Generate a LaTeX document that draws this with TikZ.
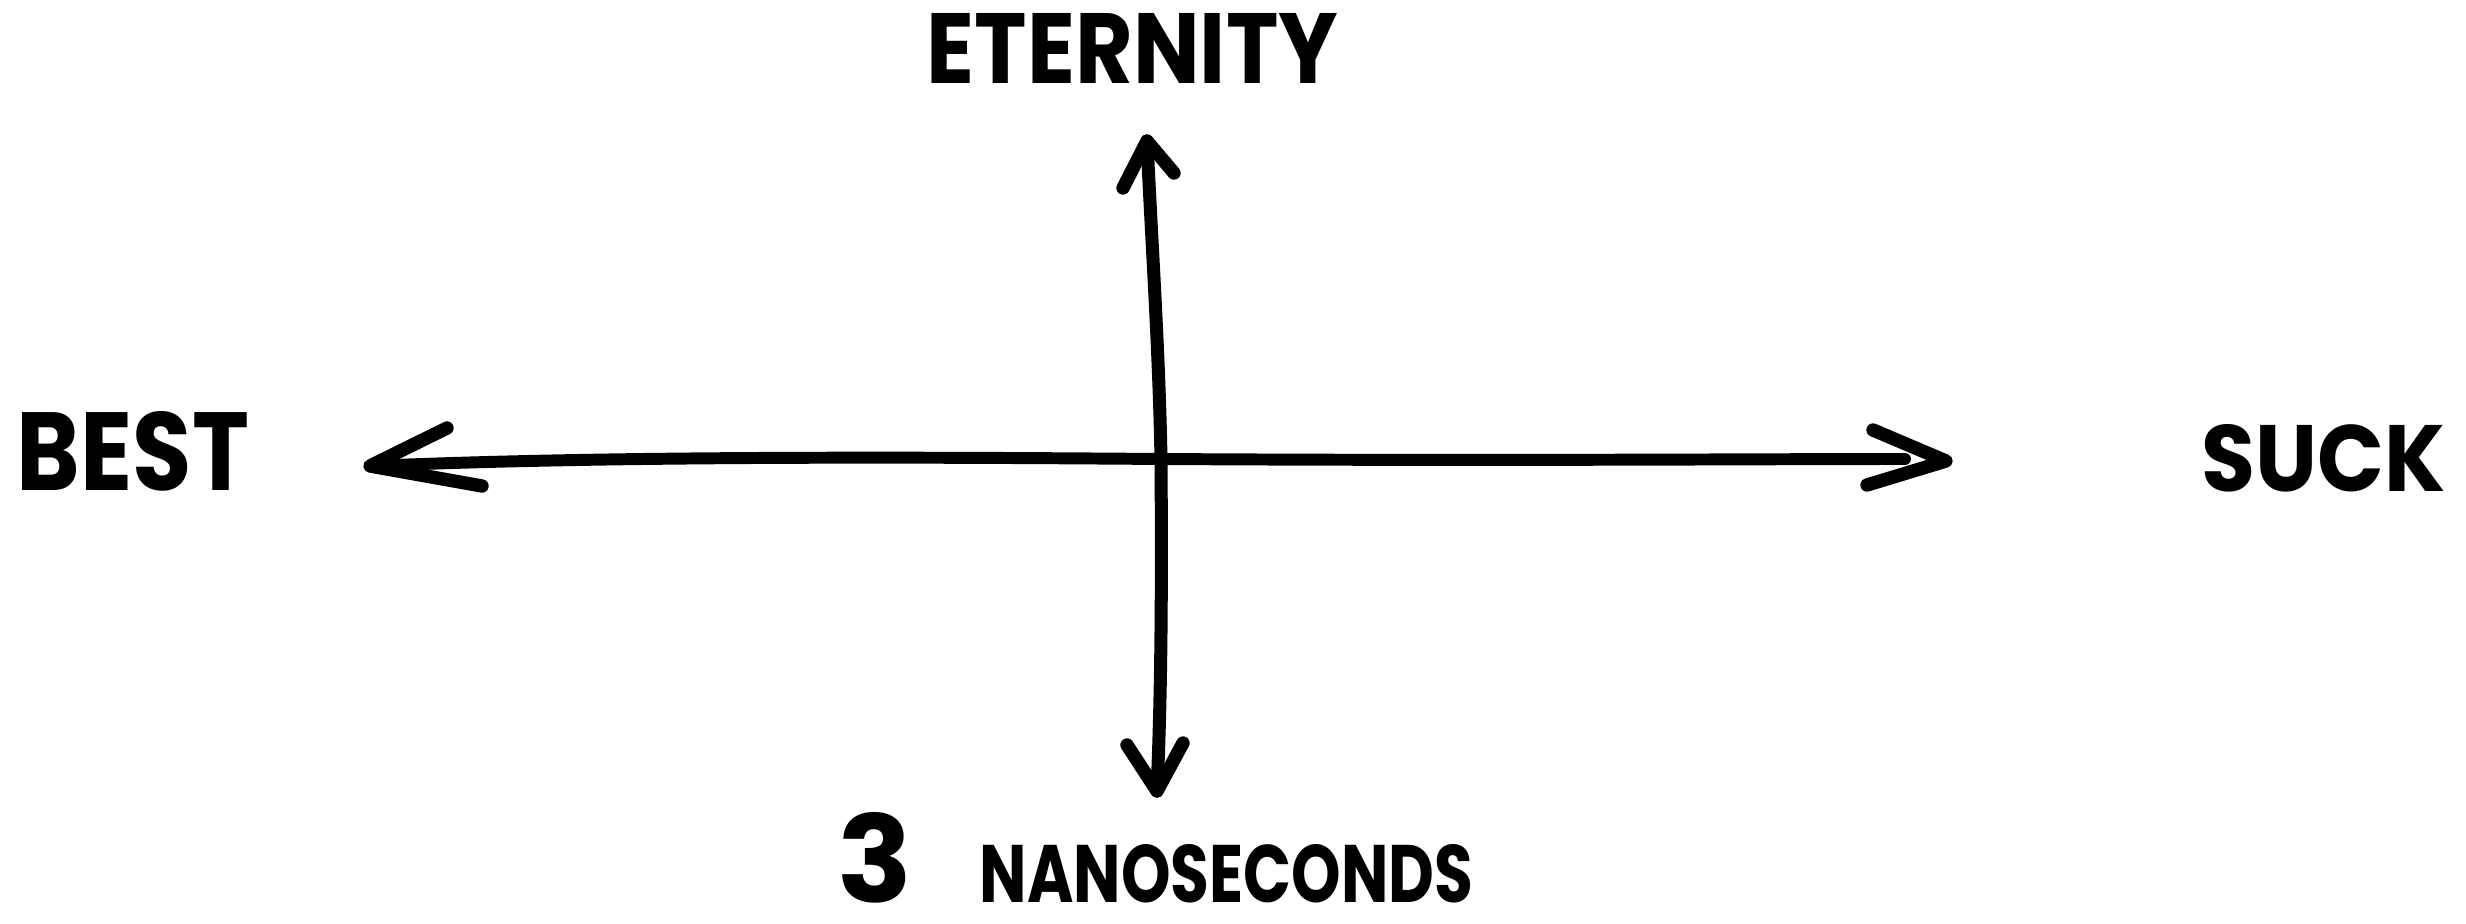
\documentclass[tikz,border=0pt]{standalone}
\usepackage{graphicx}
\usepackage{fontspec}
\setmainfont{Poppins}
\tikzset{
  pen/.style={line width=3.4pt, line cap=round, line join=round, draw=black},
  headpen/.style={line width=3.8pt, line cap=round, line join=round, draw=black},
  lab/.style={inner sep=0pt, outer sep=0pt, font=\bfseries, text=black},
}
\begin{document}
\begin{tikzpicture}[x=0.01cm, y=-0.01cm]
  \useasboundingbox[fill=white] (0,0) rectangle (2466,924);
  % labels
  \node[lab] (best)  at (133,451.5)  {\resizebox{2.32cm}{0.79cm}{BEST}};
  \node[lab] (suck)  at (2324,458.5) {\resizebox{2.44cm}{0.67cm}{SUCK}};
  \node[lab] (eter)  at (1132.5,48)  {\resizebox{4.11cm}{0.70cm}{ETERNITY}};
  \node[lab] (three) at (875.5,858)  {\resizebox{0.75cm}{0.90cm}{3}};
  \node[lab] (nano)  at (1226.5,874) {\resizebox{4.93cm}{0.58cm}{NANOSECONDS}};
  % axis points
  \coordinate (O)    at (1161,459);
  \coordinate (Ltip) at (370,466);
  \coordinate (Rend) at (1905,459);
  \coordinate (Rtip) at (1946,461);
  \coordinate (Ttip) at (1147,141);
  \coordinate (Btip) at (1157,791);
  % horizontal axis
  \draw[pen] (Ltip) .. controls (560,458) and (800,456) .. (O)
             .. controls (1500,461) and (1750,459) .. (Rend);
  \draw[headpen] (447,428) -- (Ltip) -- (482,486);
  \draw[headpen] (1873,430) -- (Rtip) -- (1867,485);
  % vertical axis
  \draw[pen, line width=3.7pt] (Ttip) .. controls (1152,250) and (1159,350) .. (O)
             .. controls (1162,600) and (1161,700) .. (Btip);
  \draw[headpen] (1123,188) -- (Ttip) -- (1174,173);
  \draw[headpen] (1127,745) -- (Btip) -- (1183,743);
\end{tikzpicture}
\end{document}
